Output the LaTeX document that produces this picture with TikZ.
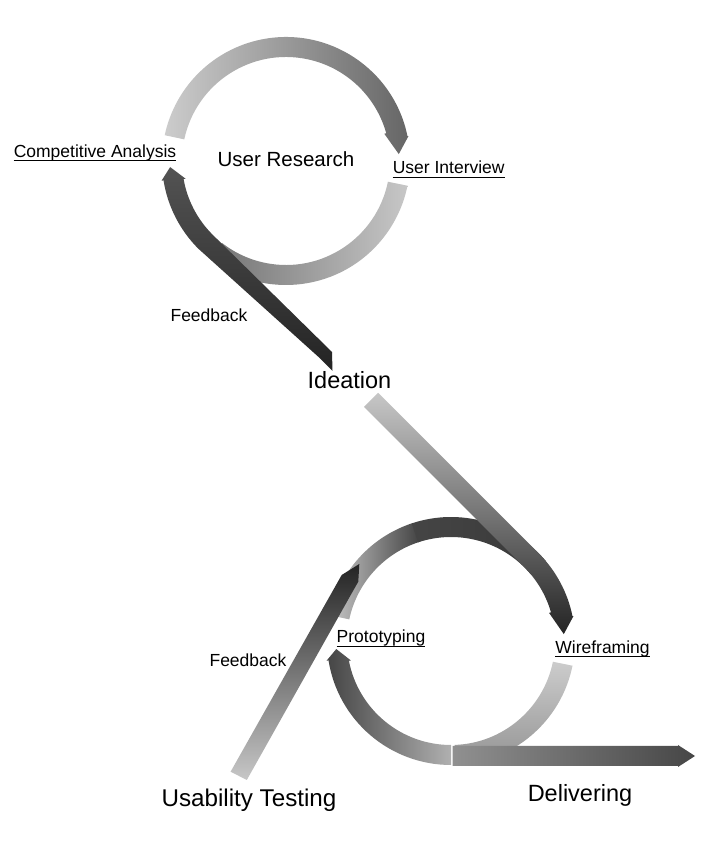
\documentclass[tikz,border=0pt]{standalone}
\usepackage{fontspec}
\setmainfont{Liberation Sans}

\definecolor{lightring}{gray}{0.80}
\definecolor{paleband}{gray}{0.78}
\definecolor{midband}{gray}{0.58}
\definecolor{darkband}{gray}{0.27}
\definecolor{blackband}{gray}{0.14}

\tikzset{
  lbl/.style={inner sep=0pt, anchor=base, font=\fontsize{17.5}{20}\selectfont},
  biglbl/.style={inner sep=0pt, anchor=base, font=\fontsize{23.5}{27}\selectfont},
  uline/.style={line width=1.1pt},
}

\begin{document}
\begin{tikzpicture}[x=1pt,y=1pt]
  \useasboundingbox (0,0) rectangle (704,844);

  \coordinate (C1) at (286,683);
  \coordinate (C2) at (451,203);

  % user research loop
  \begin{scope}[shift={(C1)}]
    \shade[left color=lightring, right color=gray!80!black] (168:104) arc[start angle=168, end angle=15.5, radius=104] -- (15.5:102) -- (3.5:113) -- (11.5:125) -- (11.5:124) arc[start angle=11.5, end angle=168, radius=124] -- cycle;
    \shade[left color=gray!90!black, right color=paleband] (-11.5:104) arc[start angle=-11.5, end angle=-128, radius=104] -- (-128:124) arc[start angle=-128, end angle=-11.5, radius=124] -- cycle;
    \shade[top color=gray!65!black, bottom color=blackband] (183:116) -- (190:102) -- (190:104) arc[start angle=190, end angle=225, radius=104] -- (46,-191) -- (46.5,-210) -- (34,-197.3) -- (225:124) arc[start angle=225, end angle=189, radius=124] -- (189:126) -- cycle;
  \end{scope}

  % design loop
  \begin{scope}[shift={(C2)}]
    \shade[left color=paleband, right color=darkband] (168:104) arc[start angle=168, end angle=108, radius=104] -- (108:124) arc[start angle=108, end angle=168, radius=124] -- cycle;
    \shade[left color=darkband, right color=gray!45!black] (108.5:104) arc[start angle=108.5, end angle=40, radius=104] -- (40:124) arc[start angle=40, end angle=108.5, radius=124] -- cycle;
    \shade[top color=lightring, bottom color=midband] (-11.5:104) arc[start angle=-11.5, end angle=-88, radius=104] -- (-88:124) arc[start angle=-88, end angle=-11.5, radius=124] -- cycle;
    \shade[top color=paleband, bottom color=blackband] (-87,234) -- (45:104) arc[start angle=45, end angle=16, radius=104] -- (16:102) -- (3.5:113) -- (11.5:125) -- (11.5:124) arc[start angle=11.5, end angle=45, radius=124] -- (-72.8,248.2) -- cycle;
    \shade[left color=darkband, right color=gray!62] (184:115) -- (189:126) -- (189:124) arc[start angle=189, end angle=270, radius=124] -- (270:104) arc[start angle=270, end angle=191, radius=104] -- (191:102) -- cycle;
  \end{scope}

  \shade[left color=gray!55!black!60!white, right color=gray!55!black] (452.5,78) -- (678,78) -- (678,77) -- (695,88) -- (678,99) -- (678,98) -- (452.5,98) -- cycle;
  \shade[top color=blackband, middle color=gray!60!black, bottom color=paleband] (230.6,72.3) -- (246.8,64) -- (351.7,250.7) -- (358.3,262.3) -- (359.3,280) -- (341.7,269) -- cycle;

  \node[lbl] (ca) at (95,686.7) {Competitive Analysis};
  \node[lbl, font=\fontsize{20.5}{24}\selectfont] (ur) at (286,677.3) {User Research};
  \node[lbl] (ui) at (448.7,670) {User Interview};
  \node[lbl] (fb1) at (209,522.3) {Feedback};
  \node[biglbl] (id) at (349.5,455.7) {Ideation};
  \node[lbl] (pt) at (381,201.3) {Prototyping};
  \node[lbl] (wf) at (602.5,190.7) {Wireframing};
  \node[lbl] (fb2) at (248,177.3) {Feedback};
  \node[biglbl, font=\fontsize{24.2}{28}\selectfont] (ut) at (249,37) {Usability Testing};
  \node[biglbl] (dl) at (580,42.3) {Delivering};

  \foreach \n in {ca,ui,pt,wf}
    \draw[uline] ([yshift=-3.4pt]\n.base west) -- ([yshift=-3.4pt]\n.base east);
\end{tikzpicture}
\end{document}
